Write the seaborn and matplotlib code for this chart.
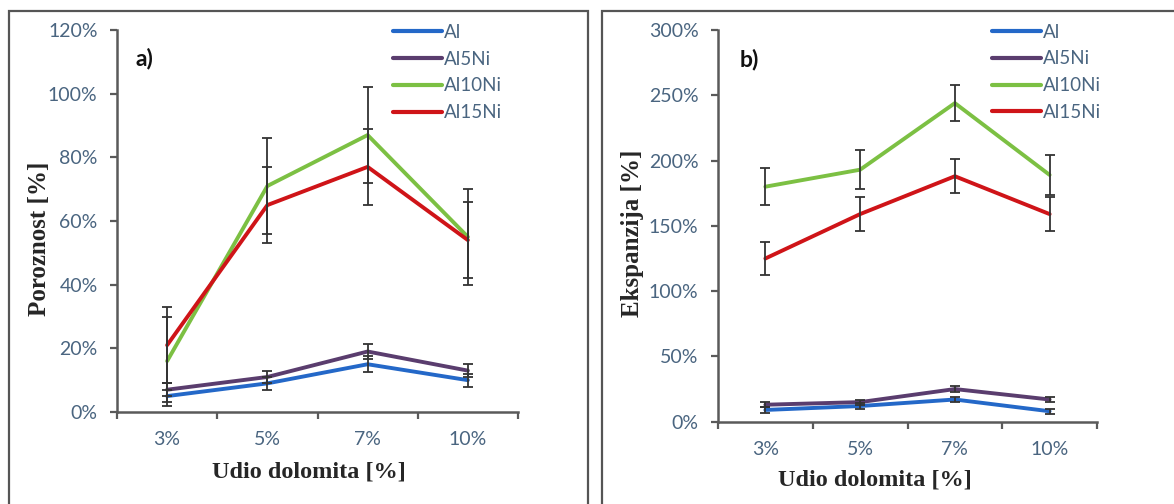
import matplotlib
matplotlib.use("Agg")
import matplotlib.pyplot as plt
from matplotlib.patches import Rectangle
from matplotlib.ticker import FixedLocator, FuncFormatter
import numpy as np
import pandas as pd
import seaborn as sns

# ---- data -------------------------------------------------------------
categories = ["3%", "5%", "7%", "10%"]
series = ["Al", "Al5Ni", "Al10Ni", "Al15Ni"]

# porosity [%]
poro_al = [5, 9, 15, 10]
poro_al5ni = [7, 11, 19, 13]
poro_al10ni = [16, 71, 87, 55]
poro_al15ni = [21, 65, 77, 54]
poro_err_al = [2, 2, 2.5, 2]
poro_err_al5ni = [2, 2, 2.5, 2]
poro_err_al10ni = [14, 15, 15, 15]
poro_err_al15ni = [12, 12, 12, 12]

# expansion [%]
exp_al = [9, 12, 17, 8]
exp_al5ni = [13, 15, 25, 17]
exp_al10ni = [180, 193, 244, 189]
exp_al15ni = [125, 159, 188, 159]
exp_err_al = [2, 2, 2, 2]
exp_err_al5ni = [2, 2, 2, 2]
exp_err_al10ni = [14, 15, 14, 15]
exp_err_al15ni = [13, 13, 13, 13]

colors = {"Al": "#2468c8", "Al5Ni": "#5a3d6e", "Al10Ni": "#7cc043", "Al15Ni": "#cf1418"}
tick_color = "#4a6580"
axis_color = "#5a5a5a"

sns.set_theme(style="white")
plt.rcParams["font.family"] = ["Lato", "DejaVu Sans"]

W, H = 1174, 504
fig = plt.figure(figsize=(W / 100, H / 100), dpi=100)


def px_axes(left, top, right, bottom):
    return fig.add_axes([left / W, 1 - bottom / H, (right - left) / W, (bottom - top) / H])


def build_frame(vals, errs):
    rows = []
    for name, v, e in zip(series, vals, errs):
        for i, (c, y, err) in enumerate(zip(categories, v, e)):
            rows.append({"pos": i, "cat": c, "series": name, "value": y, "err": err})
    return pd.DataFrame(rows)


def draw_panel(ax, df, ymax, ystep, tag, tag_x, leg_x, leg_y):
    sns.lineplot(data=df, x="pos", y="value", hue="series", hue_order=series,
                 palette=colors, linewidth=2.8, ax=ax, legend=True, sort=False)
    for name in series:
        sub = df[df["series"] == name]
        ax.errorbar(sub["pos"], sub["value"], yerr=sub["err"], fmt="none",
                    ecolor="#333333", elinewidth=1.3, capsize=3.8, capthick=1.3, zorder=5)
    ax.set_xlim(-0.5, len(categories) - 0.5)
    ax.set_ylim(0, ymax)
    ax.set_xticks(range(len(categories)))
    ax.set_xticklabels(categories)
    ax.xaxis.set_minor_locator(FixedLocator(np.arange(-0.5, len(categories), 1.0)))
    ax.tick_params(axis="x", which="major", length=0, pad=14, labelsize=14, labelcolor=tick_color)
    ax.tick_params(axis="x", which="minor", length=5, width=1.6, color=axis_color, direction="out", bottom=True)
    ax.set_yticks(np.arange(0, ymax + 1, ystep))
    ax.yaxis.set_major_formatter(FuncFormatter(lambda v, p: f"{int(v)}%"))
    ax.tick_params(axis="y", which="major", length=5, width=1.6, color=axis_color, direction="out",
                   left=True, pad=9, labelsize=14, labelcolor=tick_color)
    for s in ["top", "right"]:
        ax.spines[s].set_visible(False)
    for s in ["left", "bottom"]:
        ax.spines[s].set_color(axis_color)
        ax.spines[s].set_linewidth(1.8)
    ax.set_xlabel("")
    ax.set_ylabel("")
    ax.grid(False)
    ax.text(tag_x, 0.925, tag, transform=ax.transAxes,
            fontsize=16.5, fontweight="bold", color="#111111", va="center", ha="left")
    leg = ax.legend(loc="upper left", bbox_to_anchor=(leg_x, leg_y), frameon=False,
                    borderpad=0, borderaxespad=0, handlelength=2.6, handletextpad=0.1,
                    labelspacing=0.52, fontsize=13.5)
    for t in leg.get_texts():
        t.set_color(tick_color)
    for h in leg.get_lines():
        h.set_linewidth(3)
    ax.set_facecolor("white")


ax_a = px_axes(117, 30, 518, 412)
draw_panel(ax_a, build_frame([poro_al, poro_al5ni, poro_al10ni, poro_al15ni],
                             [poro_err_al, poro_err_al5ni, poro_err_al10ni, poro_err_al15ni]),
           120, 20, "a)", 0.045, 0.688, 1.016)

ax_b = px_axes(718, 30, 1097, 421.7)
draw_panel(ax_b, build_frame([exp_al, exp_al5ni, exp_al10ni, exp_al15ni],
                             [exp_err_al, exp_err_al5ni, exp_err_al10ni, exp_err_al15ni]),
           300, 50, "b)", 0.058, 0.723, 1.016)

# axis titles
serif = ["Liberation Serif", "DejaVu Serif"]
fig.text(40 / W, 1 - 239 / H, "Poroznost [%]", rotation=90, ha="center", va="center",
         fontsize=18, fontweight="bold", family=serif)
fig.text(633 / W, 1 - 233 / H, "Ekspanzija [%]", rotation=90, ha="center", va="center",
         fontsize=18, fontweight="bold", family=serif)
fig.text(309 / W, 1 - 472 / H, "Udio dolomita [%]", ha="center", va="center",
         fontsize=17.5, fontweight="bold", family=serif)
fig.text(875 / W, 1 - 480 / H, "Udio dolomita [%]", ha="center", va="center",
         fontsize=17.5, fontweight="bold", family=serif)

# panel frames
fig.patches.append(Rectangle((9 / W, -0.05), (588 - 9) / W, 1 - 11 / H + 0.05,
                             transform=fig.transFigure, fill=False, edgecolor="#555555",
                             linewidth=1.6, zorder=0))
fig.patches.append(Rectangle((602 / W, -0.05), 0.5, 1 - 11 / H + 0.05,
                             transform=fig.transFigure, fill=False, edgecolor="#555555",
                             linewidth=1.6, zorder=0))

fig.savefig("out.png", dpi=100, facecolor="white")
